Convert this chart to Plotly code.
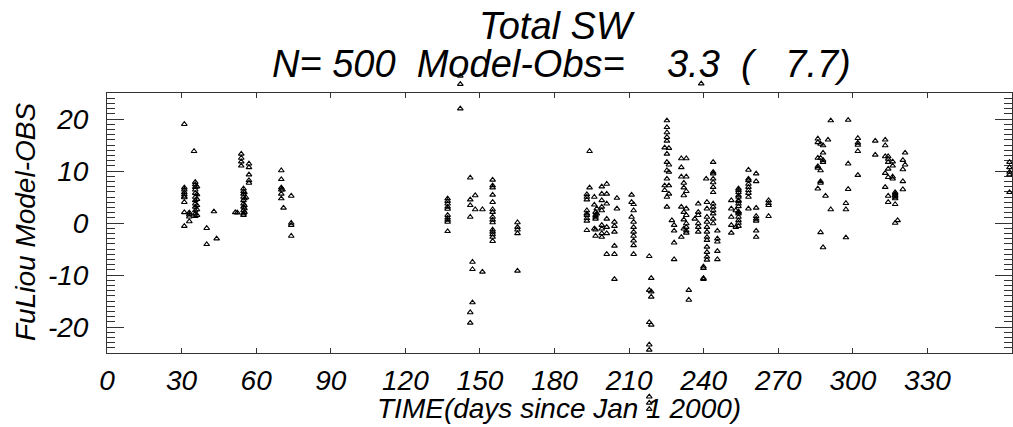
import plotly.graph_objects as go

# ---- data: day of year (columns) and FuLiou Model-OBS values at each day ----
feb_days = [31.1, 33.1, 35.0, 35.5, 36.2, 40.1, 43.0, 44.1]
feb_vals = [[19.0, 6.8, 6.4, 5.9, 5.5, 5.1, 4.9, 4.0, 2.05, -0.6],
            [2.0, 1.6, 1.2, 0.3],
            [13.8],
            [7.85, 7.4, 6.9, 6.4, 5.75, 5.0, 4.35, 3.7, 3.1, 2.4, 1.8, 1.3],
            [7.0, 5.5, 4.6, 3.4, 2.6, 1.5],
            [-1.0, -4.1],
            [2.2],
            [-3.0]]

mar_days = [51.6, 52.4, 54.0, 54.9, 55.3, 55.9, 57.1, 70.1, 70.6, 71.0, 74.1]
mar_vals = [[2.05], [2.0],
            [13.3, 12.5, 11.8, 11.0],
            [6.6, 6.1, 5.6, 5.0, 4.35, 3.7, 3.1, 2.4, 1.8, 1.5],
            [5.9, 4.7, 3.4, 2.8, 2.1],
            [4.9],
            [11.4, 10.7, 9.3, 8.2, 7.7],
            [10.1, 8.4, 6.8, 6.4, 5.6, 4.7],
            [6.4],
            [2.9],
            [5.2, 0.0, -0.4, -2.5]]

may_days = [137.0, 142.1, 146.1, 147.0, 148.1, 151.0, 155.1, 165.1]
may_vals = [[4.7, 4.2, 3.7, 3.1, 2.7, 1.5, 1.0, 0.6, 0.2, -1.6],
            [28.3, 26.7, 22.0],
            [8.7, 4.5, 3.4, 1.15, -17.2, -19.2],
            [-7.5, -8.9, -15.3],
            [5.3, 2.6],
            [2.6, -9.4],
            [8.3, 7.2, 6.8, 5.4, 4.0, 2.6, 2.1, 1.15, 0.6, 0.1, -1.3, -1.7, -2.2, -2.7, -3.5],
            [0.1, -0.8, -1.3, -2.0, -9.2]]

jul_days = [193.0, 194.1, 196.0, 196.5, 197.0, 199.0, 201.0, 204.1, 205.1,
            211.0, 211.8, 218.1, 218.9]
jul_vals = [[5.5, 5.0, 4.5, 2.4, 1.8, 1.5, 0.9, 0.4, -1.4],
            [13.8, 6.8],
            [5.0, 3.5, -1.1],
            [2.1, 1.5, 1.15, 0.8, -1.3, -2.5],
            [2.75, 1.8],
            [7.0, 5.6, 4.35, 3.1, 2.4, -0.4, -1.1, -2.7, -2.0],
            [7.5, 5.6, 3.7, -2.0, -6.0, 0.8, -0.8],
            [0.2, -0.6, -1.7, -4.4, -6.0, -10.8],
            [4.8, 2.75],
            [5.4, 4.0, 1.15],
            [3.6, 2.4, 0.2, -0.8, -1.7, -2.5, -3.4, -4.3, -6.0],
            [-6.4, -12.9, -19.1, -23.4, -24.4, -33.4, -34.6, -35.8],
            [-10.6, -13.2, -14.2, -19.6]]

aug_days = [224.3, 225.2, 226.0, 227.2, 228.1, 231.0, 232.0, 233.0, 234.0,
            236.4, 237.8, 239.0, 239.9, 241.0, 241.3, 243.8, 245.5]
aug_vals = [[14.5, 7.2, 6.3],
            [19.7, 18.4, 17.4, 16.5, 15.8, 13.3, 11.7, 10.1, 8.5, 5.0, 3.1],
            [14.4, 11.2, 9.8, 7.2, 5.6],
            [0.5],
            [-0.4, -1.5, -3.8, -7.0],
            [12.4, 10.7, 8.9, 3.1, -2.7],
            [7.7, 6.8, 5.3, 0.65, -1.1, 2.1],
            [12.4, 8.9, 6.1, 2.75, 1.5, -0.1, -0.8, -1.5, -1.9],
            [-12.9, -14.8],
            [0.8],
            [3.7, 2.1, 1.5, -0.1, -0.8, -1.7],
            [26.8],
            [-8.4, -8.7, -10.8, -10.6],
            [8.5],
            [4.0, 2.75, 1.15, 0.2, -0.8, -1.7, -2.7, -3.3, -4.6, -5.6, -6.5, -7.1],
            [11.7, 9.8, 9.5, 8.5, 7.8, 6.9, 5.9, 3.7, 3.1, 2.4, 1.8, 0.8, -0.1],
            [-1.5, -3.0, -3.6, -5.4, -7.0]]

sep_days = [251.1, 252.9, 254.0, 258.0, 261.1, 266.1]
sep_vals = [[4.35, 2.75, 1.15, -0.4, -1.9],
            [2.4, -0.8],
            [6.6, 6.3, 5.9, 5.3, 5.0, 4.35, 4.2, 3.7, 3.2, 2.2, 2.1, 1.8, 1.15, 0.5, 0.0, -0.6],
            [10.2, 8.5, 8.2, 7.5, 6.9, 6.3, 5.75, 5.0, 2.75],
            [9.5, 8.0, 2.9, 1.3, 0.8, 0.4, -1.5, -2.7],
            [4.35, 3.8, 3.4, 1.3]]

oct_days = [285.9, 287.0, 288.0, 289.0, 290.0, 291.1, 297.2, 298.1, 302.0,
            309.0, 313.0, 314.2, 316.0, 317.0, 318.0, 320.1, 321.0, 363.0]
oct_vals = [[16.2, 15.5, 12.5, 10.9, 10.6, 6.6],
            [15.2, 12.5, 10.1, 8.0, 7.7, -1.8],
            [14.9, 13.5, 12.1, 11.7, -4.7],
            [5.2],
            [16.0],
            [19.7, 2.6],
            [3.8, 2.6, -2.8],
            [19.8, 11.4, 6.5],
            [16.3, 15.4, 15.0, 13.8, 9.2],
            [15.8, 13.1],
            [16.0, 14.9, 12.8, 9.6, 6.9],
            [12.8, 12.3, 11.7, 10.4, 8.8, 5.2, 4.0],
            [11.8, 11.0, 8.9, 8.5],
            [5.9, 5.6, 5.3, 5.0, 4.7, 3.6, 0.0],
            [0.5],
            [12.1, 10.3, 8.0, 6.45],
            [13.5, 11.2],
            [11.7, 10.7, 9.8, 9.3, 5.9]]

x_ticks = [0, 30, 60, 90, 120, 150, 180, 210, 240, 270, 300, 330]
y_ticks = [-20, -10, 0, 10, 20]
y_ticktext = ["-20", "-10", "0", "10", "20"]
x_range = [0, 364]
y_range = [-25, 25]

title1 = "Total SW"
title2 = "N= 500\u00a0\u00a0Model-Obs=\u00a0\u00a0\u00a0\u00a03.3\u00a0\u00a0(\u00a0\u00a0\u00a07.7)"
xtitle = "TIME(days since Jan 1 2000)"
ytitle = "FuLiou Model-OBS"

# ---- expand columns into points ----
xs, ys = [], []
for days, vals in [(feb_days, feb_vals), (mar_days, mar_vals), (may_days, may_vals),
                   (jul_days, jul_vals), (aug_days, aug_vals), (sep_days, sep_vals),
                   (oct_days, oct_vals)]:
    for d, vv in zip(days, vals):
        for v in vv:
            xs.append(d)
            ys.append(v)

# ---- layout geometry (pixels) ----
W, H = 1013, 427
ML, MR, MT, MB = 107, 1, 60, 10          # outer plotting region (points may spill outside frame)
PT, PB = MT, H - MB                       # pixel top / bottom of outer region
FT, FB = 93, 353                          # frame top / bottom pixels


def pyp(p):   # pixel y -> paper y
    return (PB - p) / (PB - PT)


def pxp(p):   # pixel x -> paper x
    return (p - ML) / (W - ML - MR)


scale = (FB - FT) / (y_range[1] - y_range[0])            # px per unit
y2_range = [y_range[0] - (PB - FB) / scale, y_range[1] + (FT - PT) / scale]

FONT = "Liberation Sans, Arial, sans-serif"
AX = "#333333"
tfont = dict(family=FONT, size=28, color="black", style="italic")

fig = go.Figure()
fig.add_trace(go.Scatter(x=[], y=[], xaxis="x", yaxis="y", showlegend=False))
fig.add_trace(go.Scatter(
    x=xs, y=ys, xaxis="x", yaxis="y2", mode="markers",
    marker=dict(symbol="triangle-up-open", size=5, color="black",
                line=dict(width=1.1, color="black")),
    showlegend=False, hoverinfo="skip"))

fig.update_layout(
    width=W, height=H,
    margin=dict(l=ML, r=MR, t=MT, b=MB),
    paper_bgcolor="white", plot_bgcolor="rgba(0,0,0,0)",
    showlegend=False,
    xaxis=dict(range=x_range, tickvals=x_ticks, ticks="inside", ticklen=5,
               tickcolor=AX, showline=True, linecolor=AX, linewidth=1,
               mirror="ticks", showgrid=False, zeroline=False, automargin=False,
               anchor="y", ticklabelstandoff=2, tickfont=tfont),
    yaxis=dict(range=y_range, domain=[pyp(FB), pyp(FT)], tickvals=y_ticks,
               ticktext=y_ticktext, ticks="inside", ticklen=17,
               tickcolor=AX, showline=True, linecolor=AX, linewidth=1,
               mirror="ticks", showgrid=False, zeroline=False, automargin=False,
               anchor="x", ticklabelstandoff=12,
               minor=dict(dtick=1, ticks="inside", ticklen=8, tickcolor=AX, showgrid=False),
               tickfont=tfont),
    yaxis2=dict(range=y2_range, domain=[0, 1], anchor="x", visible=False,
                showgrid=False, zeroline=False, fixedrange=True),
    annotations=[
        dict(text=title1, xref="paper", yref="paper", x=pxp(557), y=pyp(26),
             xanchor="center", yanchor="middle", showarrow=False,
             font=dict(family=FONT, size=38, color="black", style="italic")),
        dict(text=title2, xref="paper", yref="paper", x=pxp(561), y=pyp(64),
             xanchor="center", yanchor="middle", showarrow=False,
             font=dict(family=FONT, size=38, color="black", style="italic")),
        dict(text=xtitle, xref="paper", yref="paper", x=pxp(559), y=pyp(408),
             xanchor="center", yanchor="middle", showarrow=False,
             font=tfont),
        dict(text=ytitle, xref="paper", yref="paper", x=pxp(25), y=pyp(222),
             xanchor="center", yanchor="middle", textangle=-90, showarrow=False,
             font=tfont),
    ],
)

# remove the browser's default 8px page margin so the figure sits at the window origin
fig.write_html("out.html", config={"displayModeBar": False},
               post_script="document.body.style.margin='0';document.body.style.padding='0';")
